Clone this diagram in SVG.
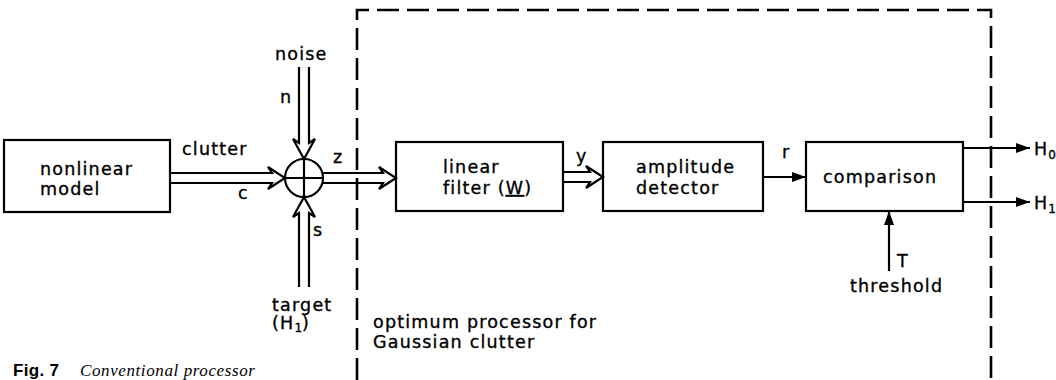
<svg xmlns="http://www.w3.org/2000/svg" width="1056" height="380" viewBox="0 0 1056 380">
<defs>
<marker id="ah" markerWidth="14" markerHeight="10" refX="14" refY="5" orient="auto" markerUnits="userSpaceOnUse">
<path d="M0,0 L14,5 L0,10 Z" fill="#000"/>
</marker>
</defs>
<style>
.box{fill:#fff;stroke:#000;stroke-width:2.2}
.ln{fill:none;stroke:#000;stroke-width:2.2}
.dbl{fill:none;stroke:#000;stroke-width:2.2;stroke-linejoin:miter}
.dash{fill:none;stroke:#000;stroke-width:2.6;stroke-dasharray:22 8}
text{font-family:"DejaVu Sans","Liberation Sans",sans-serif;font-size:17.5px;letter-spacing:1.2px;fill:#000;stroke:#000;stroke-width:0.35}
.sub{font-size:12px;letter-spacing:0}
.cap{font-family:"Liberation Sans",Arial,sans-serif;font-weight:bold;font-size:17px;letter-spacing:0.3px;stroke-width:0}
.capi{font-family:"Liberation Serif","Times New Roman",serif;font-style:italic;font-size:17px;letter-spacing:0.6px;stroke-width:0}
</style>

<g id="boundary">
<path class="dash" d="M357,380 L357,10 L991,10 L991,380"/>
</g>

<g id="nonlinear-model">
<rect class="box" x="4" y="140" width="166" height="72"/>
<text x="40" y="175">nonlinear</text>
<text x="40" y="195">model</text>
</g>

<g id="summer">
<circle class="ln" cx="304" cy="178" r="19"/>
<path class="ln" d="M285,178 L323,178 M304,159 L304,197"/>
</g>

<g id="linear-filter">
<rect class="box" x="396" y="142" width="167" height="69"/>
<text x="443" y="173">linear</text>
<text x="443" y="194">filter (<tspan text-decoration="underline">W</tspan>)</text>
</g>

<g id="amplitude-detector">
<rect class="box" x="603" y="142" width="160" height="69"/>
<text x="636" y="173">amplitude</text>
<text x="636" y="194">detector</text>
</g>

<g id="comparison">
<rect class="box" x="806" y="142" width="157" height="69"/>
<text x="823" y="183">comparison</text>
</g>

<g id="connectors">
<path class="dbl" d="M170,173 L272,173 L268,167 L285,178 L268,189 L272,183 L170,183"/>
<path class="dbl" d="M299,67 L299,143 L293,139 L304,159 L315,139 L309,143 L309,67"/>
<path class="dbl" d="M299,287 L299,213 L293,217 L304,197 L315,217 L309,213 L309,287"/>
<path class="dbl" d="M323,173 L383,173 L379,167 L396,178 L379,189 L383,183 L323,183"/>
<path class="dbl" d="M563,172 L590,172 L586,166 L603,177 L586,188 L590,182 L563,182"/>
<path class="ln" d="M763,177 L806,177" marker-end="url(#ah)"/>
<path class="ln" d="M963,148 L1030,148" marker-end="url(#ah)"/>
<path class="ln" d="M963,202 L1030,202" marker-end="url(#ah)"/>
<path class="ln" d="M889,271 L889,211" marker-end="url(#ah)"/>
</g>

<g id="labels">
<text x="275" y="60">noise</text>
<text x="280" y="103">n</text>
<text x="182" y="155">clutter</text>
<text x="238" y="199">c</text>
<text x="333" y="163">z</text>
<text x="313" y="236">s</text>
<text x="272" y="311">target</text>
<text x="272" y="329">(H<tspan class="sub" dy="3">1</tspan><tspan dy="-3">)</tspan></text>
<text x="576" y="162">y</text>
<text x="782" y="158">r</text>
<text x="1034" y="155">H<tspan class="sub" dy="4">0</tspan></text>
<text x="1034" y="209">H<tspan class="sub" dy="4">1</tspan></text>
<text x="897" y="267">T</text>
<text x="850" y="292">threshold</text>
<text x="373" y="328">optimum processor for</text>
<text x="373" y="348">Gaussian clutter</text>
</g>

<g id="caption">
<text class="cap" x="13" y="376">Fig. 7</text>
<text class="capi" x="80" y="376">Conventional processor</text>
</g>
</svg>
